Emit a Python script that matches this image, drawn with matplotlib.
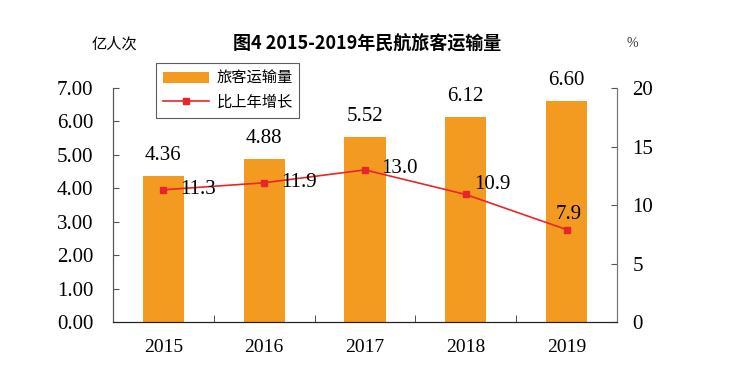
import matplotlib.pyplot as plt
import numpy as np

years = ['2015', '2016', '2017', '2018', '2019']
passengers = [4.36, 4.88, 5.52, 6.12, 6.60]
growth = [11.3, 11.9, 13.0, 10.9, 7.9]

serif = ['Liberation Serif', 'Noto Sans CJK SC']
cjk = ['Noto Sans CJK SC', 'DejaVu Sans']
plt.rcParams['font.family'] = serif

fig = plt.figure(figsize=(7.35, 3.8), dpi=100)
ax = fig.add_axes([0.1537, 0.1526, 0.6857, 0.6158])
ax2 = ax.twinx()

x = np.arange(len(years))
bars = ax.bar(x, passengers, width=0.41, color='#F39A21', label='旅客运输量', zorder=2)
line, = ax2.plot(x, growth, color='#E8262A', lw=1.2, marker='s', ms=5,
                 markerfacecolor='#E8262A', label='比上年增长', zorder=3)

ax.set_xlim(-0.5, 4.5)
ax.set_ylim(0, 7)
ax2.set_ylim(0, 20)
ax.set_yticks(np.arange(0, 7.01, 1))
ax.set_yticklabels(['%.2f' % v for v in np.arange(0, 7.01, 1)], fontsize=15)
ax2.set_yticks([0, 5, 10, 15, 20])
ax2.set_yticklabels(['0', '5', '10', '15', '20'], fontsize=15)
ax.set_xticks(x)
ax.set_xticklabels(years, fontsize=14)
ax.set_xticks(np.arange(-0.5, 5, 1), minor=True)
ax.tick_params(axis='x', which='major', length=0, pad=12)
ax.tick_params(axis='x', which='minor', direction='in', length=5, color='#333333')
ax.tick_params(axis='y', direction='in', length=4, pad=14, color='#555555')
ax2.tick_params(axis='y', direction='in', length=4, pad=11, color='#555555')

for a in (ax, ax2):
    a.spines['top'].set_visible(False)
    a.spines['left'].set_color('#555555')
    a.spines['right'].set_color('#777777')
    a.spines['bottom'].set_color('#222222')

for xi, v in zip(x, passengers):
    ax.annotate('%.2f' % v, (xi, v), xytext=(0, 8), textcoords='offset points',
                ha='center', va='bottom', fontsize=15)

offsets = [(12, 0), (12, 0), (12, 1), (6, 7), (-8, 11)]
for xi, v, off in zip(x, growth, offsets):
    ax2.annotate('%.1f' % v, (xi, v), xytext=off, textcoords='offset points',
                 ha='left', va='center', fontsize=15)

leg = ax.legend([bars, line], ['旅客运输量', '比上年增长'], loc='upper left',
                bbox_to_anchor=(0.07, 1.14), prop={'family': cjk, 'size': 11},
                frameon=True, fancybox=False, edgecolor='#333333',
                handlelength=3.0, borderpad=0.45, labelspacing=0.45,
                handletextpad=0.5)
leg.get_frame().set_linewidth(0.8)

fig.text(0.5, 0.885, '图4 2015-2019年民航旅客运输量', ha='center', va='center',
         fontsize=13, fontweight='bold', family=['Noto Sans CJK SC'])
fig.text(0.155, 0.885, '亿人次', ha='center', va='center', fontsize=11, family=cjk)
fig.text(0.86, 0.885, '%', ha='center', va='center', fontsize=10, color='#333333')

fig.savefig('out.png', dpi=100)
